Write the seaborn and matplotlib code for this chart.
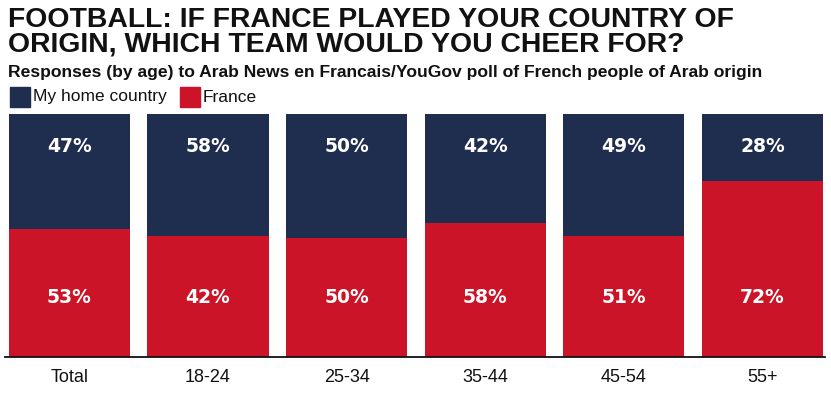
import matplotlib
matplotlib.use("Agg")
import matplotlib.pyplot as plt
import pandas as pd
import seaborn as sns
from matplotlib.patches import Rectangle

# ---------- data ----------
groups = ["Total", "18-24", "25-34", "35-44", "45-54", "55+"]
home_pct = [47, 58, 50, 42, 49, 28]          # printed labels
france_pct = [53, 42, 50, 58, 51, 72]        # printed labels
france_bar = [52.5, 50, 49, 55, 50, 72.5]    # red bar heights as drawn in the original

NAVY = "#1f2d4f"
RED = "#cc1428"

df = pd.DataFrame({"group": groups, "france": france_bar})
df["total"] = 100

sns.set_theme(style="white")
plt.rcParams["font.family"] = ["Liberation Sans", "DejaVu Sans"]

fig = plt.figure(figsize=(8.31, 3.93), dpi=100)
ax = fig.add_axes([5 / 831, 1 - 357 / 393, 820 / 831, 243 / 393])

sns.barplot(data=df, x="group", y="total", color=NAVY, width=0.875,
            saturation=1, linewidth=0, ax=ax)
sns.barplot(data=df, x="group", y="france", color=RED, width=0.875,
            saturation=1, linewidth=0, ax=ax)

ax.set_ylim(0, 100)
ax.set_xlim(-0.4646, 5.4517)
ax.set_xlabel("")
ax.set_ylabel("")
ax.set_yticks([])
for s in ["top", "right", "left"]:
    ax.spines[s].set_visible(False)
ax.spines["bottom"].set_color("#111111")
ax.spines["bottom"].set_linewidth(1.3)
ax.tick_params(axis="x", length=0, pad=9)
for lbl in ax.get_xticklabels():
    lbl.set_fontsize(13)
    lbl.set_color("#111111")

# value labels at fixed heights like the original
for i, (h, f) in enumerate(zip(home_pct, france_pct)):
    ax.text(i, 86.5, f"{h}%", ha="center", va="center", color="white",
            fontsize=13.5, fontweight="bold", family=["DejaVu Sans"])
    ax.text(i, 24.3, f"{f}%", ha="center", va="center", color="white",
            fontsize=13.5, fontweight="bold", family=["DejaVu Sans"])

# ---------- titles ----------
fig.text(8 / 831, 1 - 7 / 393,
         "FOOTBALL: IF FRANCE PLAYED YOUR COUNTRY OF\nORIGIN, WHICH TEAM WOULD YOU CHEER FOR?",
         ha="left", va="top", fontsize=20.4, fontweight="heavy", color="#111111",
         linespacing=0.92)
fig.text(8 / 831, 1 - 73 / 393,
         "Responses (by age) to Arab News en Francais/YouGov poll of French people of Arab origin",
         ha="left", va="center", fontsize=12.6, fontweight="bold", color="#111111")

# ---------- legend ----------
for x0, col, txt in [(10, NAVY, "My home country"), (180, RED, "France")]:
    fig.patches.append(Rectangle((x0 / 831, 1 - 107 / 393), 20 / 831, 20 / 393,
                                 transform=fig.transFigure, color=col))
    fig.text((x0 + 23) / 831, 1 - 97 / 393, txt, ha="left", va="center",
             fontsize=12.5, color="#111111")

fig.savefig("out.png", dpi=100)
